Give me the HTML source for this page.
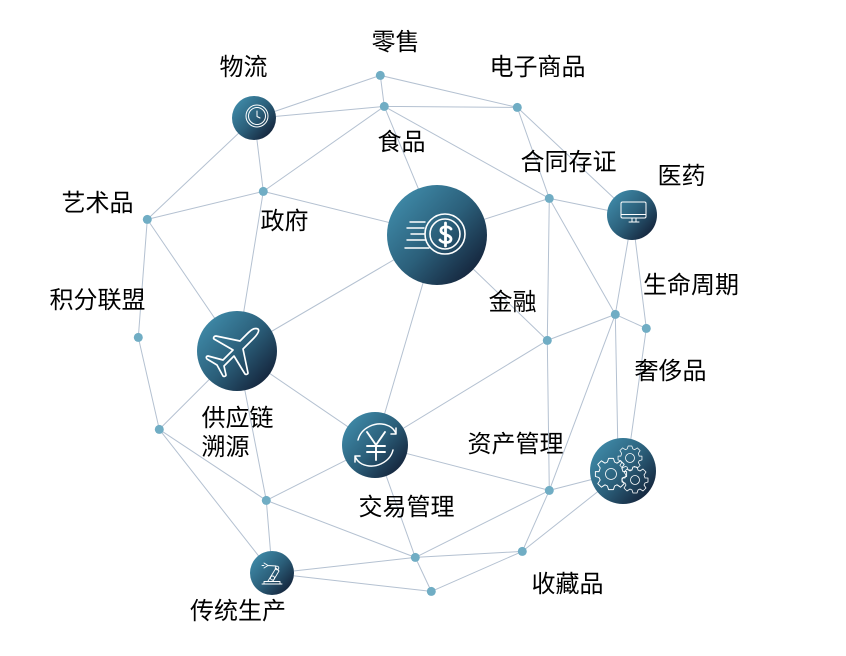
<!DOCTYPE html>
<html><head><meta charset="utf-8">
<style>
html,body{margin:0;padding:0;background:#fff;width:846px;height:656px;overflow:hidden}
svg{display:block}
text{font-family:"Liberation Sans","Noto Sans CJK SC",sans-serif;font-size:24px;fill:#000}
.i{fill:none;stroke:#fff;stroke-linecap:round;stroke-linejoin:round}
</style></head>
<body>
<svg width="846" height="656" viewBox="0 0 846 656" xmlns="http://www.w3.org/2000/svg">
<defs>
<linearGradient id="g" x1="0.1" y1="0.15" x2="0.9" y2="0.88">
<stop offset="0" stop-color="#3e88a6"/><stop offset="0.5" stop-color="#2b5f7a"/><stop offset="1" stop-color="#14233a"/>
</linearGradient>
<path id="gear" d="M-2 -13H2L3 -10L5 -9L8 -11L11 -8L9 -5L10 -2L13 -2V2L10 3L9 5L11 8L8 11L5 9L3 10L2 13H-2L-3 10L-5 9L-8 11L-11 8L-9 5L-10 3L-13 2V-2L-10 -2L-9 -5L-11 -8L-8 -11L-5 -9L-3 -10Z"/>
</defs>

<path fill="none" stroke="#b4c1d1" stroke-width="1" transform="translate(0.3 0.4)" d="M380 75L254 118M380 75L384 106M380 75L517 107M384 106L254 118M384 106L517 107M384 106L263 191M384 106L437 234M384 106L549 198M517 107L549 198M517 107L632 215M254 118L147 219M254 118L263 191M263 191L147 219M263 191L437 234M263 191L237 351M147 219L237 351M147 219L138 337M138 337L159 429M159 429L237 351M159 429L266 500M159 429L272 573M237 351L437 234M237 351L375 445M237 351L266 500M266 500L375 445M266 500L272 573M266 500L415 557M272 573L415 557M272 573L431 591M415 557L431 591M415 557L375 445M415 557L549 490M415 557L522 551M431 591L522 551M522 551L549 490M522 551L623 471M549 490L623 471M549 490L375 445M549 490L615 314M549 490L547 340M547 340L549 198M547 340L615 314M547 340L375 445M547 340L437 234M437 234L549 198M437 234L375 445M549 198L632 215M549 198L615 314M632 215L615 314M632 215L646 328M615 314L646 328M615 314L618 471M646 328L626 471"/>

<g fill="#70adc4" transform="translate(0.3 0.4)">
<circle cx="380" cy="75" r="4.5"/><circle cx="384" cy="106" r="4.5"/><circle cx="517" cy="107" r="4.5"/><circle cx="263" cy="191" r="4.5"/>
<circle cx="147" cy="219" r="4.5"/><circle cx="549" cy="198" r="4.5"/><circle cx="138" cy="337" r="4.5"/><circle cx="159" cy="429" r="4.5"/>
<circle cx="547" cy="340" r="4.5"/><circle cx="615" cy="314" r="4.5"/><circle cx="646" cy="328" r="4.5"/><circle cx="266" cy="500" r="4.5"/>
<circle cx="549" cy="490" r="4.5"/><circle cx="415" cy="557" r="4.5"/><circle cx="522" cy="551" r="4.5"/><circle cx="431" cy="591" r="4.5"/>
</g>

<circle cx="437" cy="235" r="50" fill="url(#g)"/>
<g class="i" stroke-width="1.6">
<circle cx="445" cy="234" r="20"/><circle cx="445" cy="234" r="15"/>
<path d="M425 222H410M424 228H407M424 234H411M426 240H407M429 248H405" stroke-width="1.4"/>
<path d="M451 229C449 226 441 226 441 230C440 235 451 234 451 239C451 244 442 243 440 240M445.5 223V246" stroke-width="2.8"/>
</g>

<circle cx="237" cy="351" r="40" fill="url(#g)"/>
<path class="i" stroke-width="1.7" d="M258 329C254 327 250 331 247 334L240 341L216 336C214 336 213 338 214 339L233 350L223 360L208 356C206 356 206 358 207 359L217 365L223 376C224 377 226 376 226 375L224 366L234 356L245 374C246 375 248 374 248 373L243 349L253 339C257 335 260 331 258 329Z"/>

<circle cx="375" cy="445" r="33" fill="url(#g)"/>
<g class="i" stroke-width="1.5">
<path d="M358 440C361 428 376 420 389 426C393 428 395 431 396 434M396 428V434H391"/>
<path d="M393 450C390 462 375 470 362 464C358 462 356 459 355 456M355 462V456H360"/>
<path d="M367 432L376 445L385 432M376 445V460M367 446H385M367 452H385" stroke-width="1.9"/>
</g>

<circle cx="623" cy="471" r="33" fill="url(#g)"/>
<g class="i" stroke="#b9ccd6" stroke-width="0.8">
<use href="#gear" transform="translate(630 458) scale(0.92)"/>
<circle cx="630" cy="458" r="4.5"/>
<use href="#gear" transform="translate(611 474) scale(1.2)"/>
<circle cx="611" cy="474" r="5.5"/>
<use href="#gear" transform="translate(635 480) scale(1)"/>
<circle cx="635" cy="480" r="4.5"/>
</g>

<circle cx="254" cy="118" r="22" fill="url(#g)"/>
<g class="i" stroke-width="1">
<circle cx="257" cy="116" r="11"/><circle cx="257" cy="116" r="8.5"/>
<path d="M257 111V116.5L260 118"/>
</g>

<circle cx="632" cy="215" r="25" fill="url(#g)"/>
<g class="i" stroke="#a9bfcc" stroke-width="1">
<rect x="621" y="202" width="25" height="16" rx="1.5"/>
<path d="M621 214.5H646M632 218V221.5M636 218V221.5M629 222H639"/>
</g>

<circle cx="272" cy="573" r="22" fill="url(#g)"/>
<g class="i" stroke="#e3edf1" stroke-width="0.9">
<path d="M262 584H282M264 584V581.5H280V584"/>
<path d="M268 581L276 568L279 571L273 581"/>
<circle cx="272.5" cy="578" r="2"/><circle cx="277" cy="568" r="1.8"/>
<path d="M276 566L268 565.5M264 563L268 565.5L264 568M262 565.5H264"/>
</g>

<text x="371.5" y="50">零售</text>
<text x="219.5" y="75">物流</text>
<text x="489.5" y="75">电子商品</text>
<text x="377.5" y="150">食品</text>
<text x="520.5" y="170">合同存证</text>
<text x="657.5" y="184">医药</text>
<text x="61.5" y="211">艺术品</text>
<text x="260.5" y="229">政府</text>
<text x="643" y="293">生命周期</text>
<text x="49.5" y="308">积分联盟</text>
<text x="488.5" y="310">金融</text>
<text x="634.5" y="379">奢侈品</text>
<text x="201.5" y="426">供应链</text>
<text x="201.5" y="455">溯源</text>
<text x="467.5" y="452">资产管理</text>
<text x="358.5" y="515">交易管理</text>
<text x="531.5" y="592">收藏品</text>
<text x="190" y="619">传统生产</text>
</svg>
</body></html>
